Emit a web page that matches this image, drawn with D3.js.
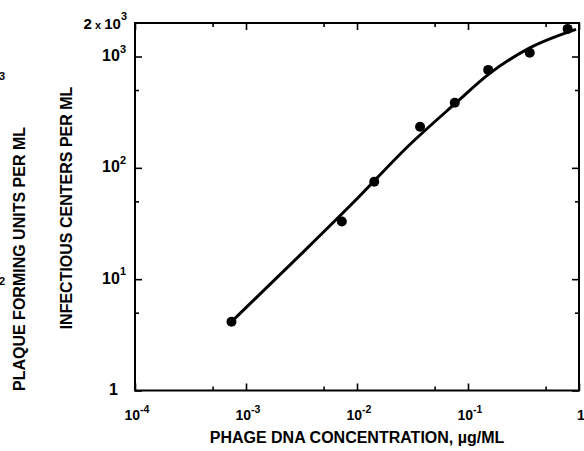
<!DOCTYPE html>
<html>
<head>
<meta charset="utf-8">
<script src="https://cdn.jsdelivr.net/npm/d3@7"></script>
<style>
  body { margin: 0; background: #fff; }
  svg { display: block; }
  text { font-family: "Liberation Sans", Arial, sans-serif; font-weight: bold; fill: #000; }
</style>
</head>
<body>
<svg id="chart"></svg>
<script>
// measured points
var concentration = [0.00074, 0.0073, 0.0143, 0.037, 0.076, 0.152, 0.36, 0.79];
var infectiousCenters = [4.15, 33, 75, 234, 385, 758, 1080, 1770];

// drawn curve
var fitConcentration = [0.00074, 0.0031, 0.01, 0.029, 0.076, 0.155, 0.36, 0.94];
var fitCenters = [4.15, 16.6, 52.7, 157, 375, 698, 1195, 1754];

// tick labels
var xMajor = [1e-4, 1e-3, 1e-2, 1e-1, 1];
var xMajorLabels = [["10", "-4"], ["10", "-3"], ["10", "-2"], ["10", "-1"], ["1", ""]];
var xMinor = [5e-4, 5e-3, 5e-2, 5e-1];
var yMajor = [1, 10, 100, 1000];
var yMajorLabels = [["1", ""], ["10", "1"], ["10", "2"], ["10", "3"]];
var yMinor = [5, 50, 500];

var W = 584, H = 451;
var plotL = 135, plotR = 579, plotT = 23, plotB = 390.5;

var svg = d3.select("#chart")
    .attr("width", W)
    .attr("height", H);

svg.append("rect")
    .attr("width", W).attr("height", H)
    .attr("fill", "#fff");

var xScale = d3.scaleLog().domain([1e-4, 1]).range([plotL, plotR]);
var yScale = d3.scaleLog().domain([1, 2000]).range([plotB, plotT]);

// axes (ticks point inward, on all four sides)
function addAxis(axis, transform) {
    svg.append("g")
        .attr("transform", transform)
        .call(axis)
        .call(g => g.select(".domain").remove())
        .selectAll("line").attr("stroke", "#000").attr("stroke-width", 1.6);
}
var noFmt = () => "";
addAxis(d3.axisBottom(xScale).tickValues(xMajor).tickSize(-7).tickFormat(noFmt), "translate(0," + plotB + ")");
addAxis(d3.axisBottom(xScale).tickValues(xMinor).tickSize(-4).tickFormat(noFmt), "translate(0," + plotB + ")");
addAxis(d3.axisTop(xScale).tickValues(xMajor).tickSize(-7).tickFormat(noFmt), "translate(0," + plotT + ")");
addAxis(d3.axisTop(xScale).tickValues(xMinor).tickSize(-4).tickFormat(noFmt), "translate(0," + plotT + ")");
addAxis(d3.axisLeft(yScale).tickValues(yMajor).tickSize(-7).tickFormat(noFmt), "translate(" + plotL + ",0)");
addAxis(d3.axisLeft(yScale).tickValues(yMinor).tickSize(-4).tickFormat(noFmt), "translate(" + plotL + ",0)");
addAxis(d3.axisRight(yScale).tickValues(yMajor).tickSize(-7).tickFormat(noFmt), "translate(" + plotR + ",0)");
addAxis(d3.axisRight(yScale).tickValues(yMinor).tickSize(-4).tickFormat(noFmt), "translate(" + plotR + ",0)");

// frame
svg.append("rect")
    .attr("x", plotL).attr("y", plotT)
    .attr("width", plotR - plotL).attr("height", plotB - plotT)
    .attr("fill", "none")
    .attr("stroke", "#000")
    .attr("stroke-width", 2);

// x tick labels
var xl = svg.selectAll(".xlab")
    .data(xMajor)
    .enter()
    .append("text")
    .attr("class", "xlab")
    .attr("x", d => xScale(d) + 2)
    .attr("y", 419.5)
    .attr("text-anchor", "middle")
    .style("font-size", "14px");
xl.append("tspan").text((d, i) => xMajorLabels[i][0]);
xl.append("tspan")
    .attr("dy", -6.5)
    .style("font-size", "10.5px")
    .text((d, i) => xMajorLabels[i][1]);

// y tick labels
var yl = svg.selectAll(".ylab")
    .data(yMajor)
    .enter()
    .append("text")
    .attr("class", "ylab")
    .attr("x", (d, i) => i == 0 ? 118 : 126)
    .attr("y", d => yScale(d) + 4.5)
    .attr("text-anchor", "end")
    .style("font-size", "16px");
yl.append("tspan").text((d, i) => yMajorLabels[i][0]);
yl.append("tspan")
    .attr("dy", -8.5)
    .style("font-size", "11px")
    .text((d, i) => yMajorLabels[i][1]);

var topLab = svg.append("text")
    .attr("x", 127)
    .attr("y", 28.5)
    .attr("text-anchor", "end")
    .style("font-size", "15px");
topLab.append("tspan").text("2");
topLab.append("tspan").style("font-size", "11px").text(" x ");
topLab.append("tspan").text("10");
topLab.append("tspan").attr("dy", -9).style("font-size", "11px").text("3");

// remnants of a second axis cut off at the left edge
svg.append("text").attr("x", 5).attr("y", 80).attr("text-anchor", "end").style("font-size", "11px").text("3");
svg.append("text").attr("x", 5).attr("y", 285).attr("text-anchor", "end").style("font-size", "11px").text("2");

// axis titles
svg.append("text")
    .attr("x", 357).attr("y", 443)
    .attr("text-anchor", "middle")
    .style("font-size", "16px")
    .text("PHAGE DNA CONCENTRATION, \u00b5g/ML");

svg.append("text")
    .attr("transform", "translate(72,208) rotate(-90)")
    .attr("text-anchor", "middle")
    .style("font-size", "16px")
    .text("INFECTIOUS CENTERS PER ML");

svg.append("text")
    .attr("transform", "translate(25,259) rotate(-90)")
    .attr("text-anchor", "middle")
    .style("font-size", "16px")
    .text("PLAQUE FORMING UNITS PER ML");

// curve
var fit = fitConcentration.map((c, i) => ({x: c, y: fitCenters[i]}));
var line = d3.line()
    .x(d => xScale(d.x))
    .y(d => yScale(d.y))
    .curve(d3.curveMonotoneX);

svg.append("path")
    .attr("d", line(fit))
    .attr("fill", "none")
    .attr("stroke", "#000")
    .attr("stroke-width", 3);

// points
var pts = concentration.map((c, i) => ({x: c, y: infectiousCenters[i]}));
svg.selectAll(".dot")
    .data(pts)
    .enter()
    .append("circle")
    .attr("class", "dot")
    .attr("cx", d => xScale(d.x))
    .attr("cy", d => yScale(d.y))
    .attr("r", 5)
    .attr("fill", "#000");
</script>
</body>
</html>
